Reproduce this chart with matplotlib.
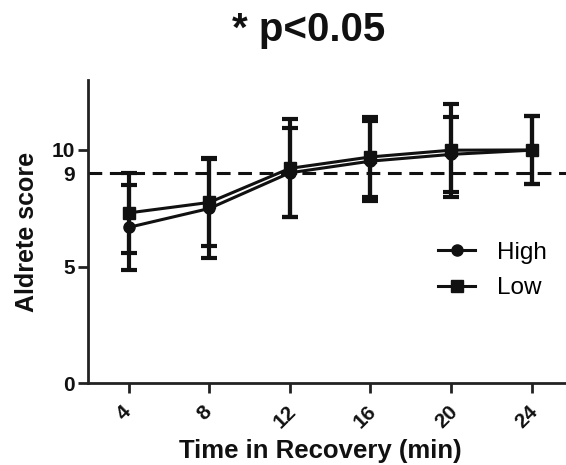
import numpy as np
import matplotlib.pyplot as plt
import matplotlib.transforms as mtransforms

plt.rcParams['font.family'] = ['Liberation Sans', 'DejaVu Sans']

time_min = [4, 8, 12, 16, 20, 24]
high_mean = [6.68, 7.49, 9.02, 9.52, 9.81, 9.99]
high_sd = [1.81, 2.13, 1.90, 1.73, 1.60, 1.47]
low_mean = [7.30, 7.75, 9.21, 9.70, 9.99, 10.0]
low_sd = [1.73, 1.89, 2.10, 1.73, 2.00, 1.47]
threshold = 9

fig = plt.figure(figsize=(5.66, 4.65), dpi=100)
ax = fig.add_axes([0.155, 0.176, 0.845, 0.652])

ax.errorbar(time_min, high_mean, yerr=high_sd, color='#111111', marker='o',
            markersize=8, linewidth=2.2, elinewidth=3, capsize=6, capthick=3,
            label='High')
ax.errorbar(time_min, low_mean, yerr=low_sd, color='#111111', marker='s',
            markersize=8, linewidth=2.2, elinewidth=3, capsize=6, capthick=3,
            label='Low')
ax.axhline(threshold, color='#111111', linestyle=(0, (4.5, 2.5)), linewidth=2.2)

ax.set_xlim(1.97, 25.7)
ax.set_ylim(0, 13.0)
ax.set_xticks(time_min)
ax.set_xticklabels([str(t) for t in time_min], rotation=45, fontweight='bold',
                   fontsize=15)
ax.set_yticks([0, 5, 9, 10])
ax.set_yticklabels(['0', '5', '9', '10'], fontweight='bold', fontsize=15)
ax.tick_params(axis='both', direction='out', length=7, width=2, color='#222222',
               labelcolor='#111111')
ax.tick_params(axis='x', pad=6)
ax.tick_params(axis='y', pad=2)
ax.yaxis.get_major_ticks()[2].tick1line.set_visible(False)

# nudge rotated x labels slightly left, as in the original
shift = mtransforms.ScaledTranslation(-0.05, -0.01, fig.dpi_scale_trans)
for lab in ax.get_xticklabels():
    lab.set_transform(lab.get_transform() + shift)

for side in ['top', 'right']:
    ax.spines[side].set_visible(False)
for side in ['left', 'bottom']:
    ax.spines[side].set_linewidth(2)
    ax.spines[side].set_color('#222222')

ax.set_xlabel('Time in Recovery (min)', fontsize=18.5, fontweight='bold',
              color='#111111')
ax.xaxis.set_label_coords(0.486, -0.185)
ax.set_ylabel('Aldrete score', fontsize=18, fontweight='bold', color='#111111',
              labelpad=9)
fig.suptitle('* p<0.05', fontsize=29, fontweight='bold', color='#111111',
             x=0.546, y=0.977)

handles, labels = ax.get_legend_handles_labels()
handles = [h[0] for h in handles]
ax.legend(handles, labels, frameon=False, loc='center left',
          bbox_to_anchor=(0.6875, 0.372), fontsize=17.5, handlelength=1.5,
          handletextpad=0.9, labelspacing=0.55)

fig.savefig('out.png', dpi=100)
